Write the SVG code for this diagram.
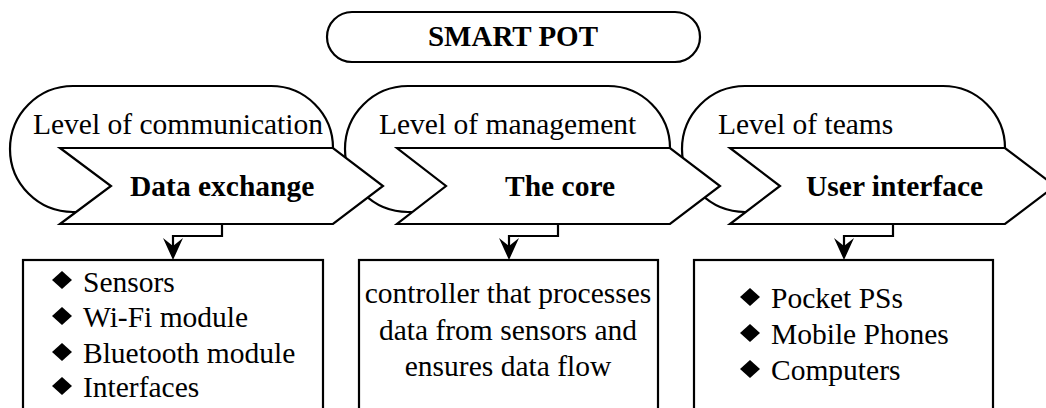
<svg xmlns="http://www.w3.org/2000/svg" width="1046" height="408" viewBox="0 0 1046 408">
  <style>
    .shape { fill: #ffffff; stroke: #000000; stroke-width: 2.2; stroke-linejoin: miter; }
    .wire { fill: none; stroke: #000000; stroke-width: 2.2; }
    .bullet { fill: #000000; }
    .head { fill: #000000; }
    svg text.t { font-family: Liberation Serif, serif !important; font-size: 29.5px; fill: #000000; }
    svg text.b { font-weight: bold; }
  </style>
  <defs>
    <!-- arrowhead pointing down, tip at the origin -->
    <path id="head" d="M0,0 L-10,-22 L0,-14 L10,-22 Z"/>
    <polygon id="dia" points="0,-9 10,0 0,9 -10,0"/>
  </defs>
  <rect width="1046" height="408" fill="#ffffff"/>

  <!-- title -->
  <g id="title">
    <rect class="shape" x="327" y="12" width="373" height="50" rx="25" ry="25"/>
    <text class="t b" x="513" y="46" text-anchor="middle" style="font-family: Liberation Serif, serif; font-size: 29px">SMART POT</text>
  </g>

  <!-- level headers (drawn first so the step arrows overlap them) -->
  <g id="level-communication">
    <path class="shape" d="M333,148 A62,62 0 0 0 271,86 L73,86 A63,63 0 0 0 73,212 L333,212 Z"/>
    <text class="t" x="33" y="134" style="font-family: Liberation Serif, serif">Level of communication</text>
  </g>
  <g id="level-management">
    <path class="shape" d="M670,148 A62,62 0 0 0 608,86 L408,86 A63,63 0 0 0 408,212 L670,212 Z"/>
    <text class="t" x="379" y="134" style="font-family: Liberation Serif, serif">Level of management</text>
  </g>
  <g id="level-teams">
    <path class="shape" d="M1005,148 A62,62 0 0 0 943,86 L745,86 A63,63 0 0 0 745,212 L1005,212 Z"/>
    <text class="t" x="718" y="134" style="font-family: Liberation Serif, serif">Level of teams</text>
  </g>

  <!-- step arrows -->
  <g id="step-data-exchange">
    <polygon class="shape" points="60,148 333,148 383,186 333,224 60,224 111,186"/>
    <text class="t b" x="130" y="196" style="font-family: Liberation Serif, serif">Data exchange</text>
  </g>
  <g id="step-core">
    <polygon class="shape" points="397,148 670,148 720,186 670,224 397,224 446,186"/>
    <text class="t b" x="505" y="196" style="font-family: Liberation Serif, serif">The core</text>
  </g>
  <g id="step-user-interface">
    <polygon class="shape" points="730,148 1005,148 1055,186 1005,224 730,224 780,186"/>
    <text class="t b" x="806" y="196" style="font-family: Liberation Serif, serif">User interface</text>
  </g>

  <!-- connectors -->
  <g id="connectors">
    <polyline class="wire" points="222,224 222,236 173,236 173,250"/>
    <use href="#head" class="head" x="173" y="260"/>
    <polyline class="wire" points="558,224 558,236 509,236 509,250"/>
    <use href="#head" class="head" x="509" y="260"/>
    <polyline class="wire" points="893,224 893,236 844,236 844,250"/>
    <use href="#head" class="head" x="844" y="260"/>
  </g>

  <!-- detail boxes -->
  <g id="box-data-exchange">
    <rect class="shape" x="23" y="260" width="300" height="160"/>
    <use href="#dia" class="bullet" x="62" y="280"/>
    <use href="#dia" class="bullet" x="62" y="316"/>
    <use href="#dia" class="bullet" x="62" y="352"/>
    <use href="#dia" class="bullet" x="62" y="386"/>
    <text class="t" x="83" y="292" style="font-family: Liberation Serif, serif">Sensors</text>
    <text class="t" x="83" y="327" style="font-family: Liberation Serif, serif">Wi-Fi module</text>
    <text class="t" x="83" y="363" style="font-family: Liberation Serif, serif">Bluetooth module</text>
    <text class="t" x="83" y="397" style="font-family: Liberation Serif, serif">Interfaces</text>
  </g>
  <g id="box-core">
    <rect class="shape" x="359" y="260" width="299" height="160"/>
    <text class="t" x="508" y="303" text-anchor="middle" style="font-family: Liberation Serif, serif">controller that processes</text>
    <text class="t" x="508" y="340" text-anchor="middle" style="font-family: Liberation Serif, serif">data from sensors and</text>
    <text class="t" x="508" y="376" text-anchor="middle" style="font-family: Liberation Serif, serif">ensures data flow</text>
  </g>
  <g id="box-user-interface">
    <rect class="shape" x="694" y="260" width="299" height="160"/>
    <use href="#dia" class="bullet" x="750" y="297"/>
    <use href="#dia" class="bullet" x="750" y="333"/>
    <use href="#dia" class="bullet" x="750" y="369"/>
    <text class="t" x="771" y="308" style="font-family: Liberation Serif, serif">Pocket PSs</text>
    <text class="t" x="771" y="344" style="font-family: Liberation Serif, serif">Mobile Phones</text>
    <text class="t" x="771" y="380" style="font-family: Liberation Serif, serif">Computers</text>
  </g>
</svg>
